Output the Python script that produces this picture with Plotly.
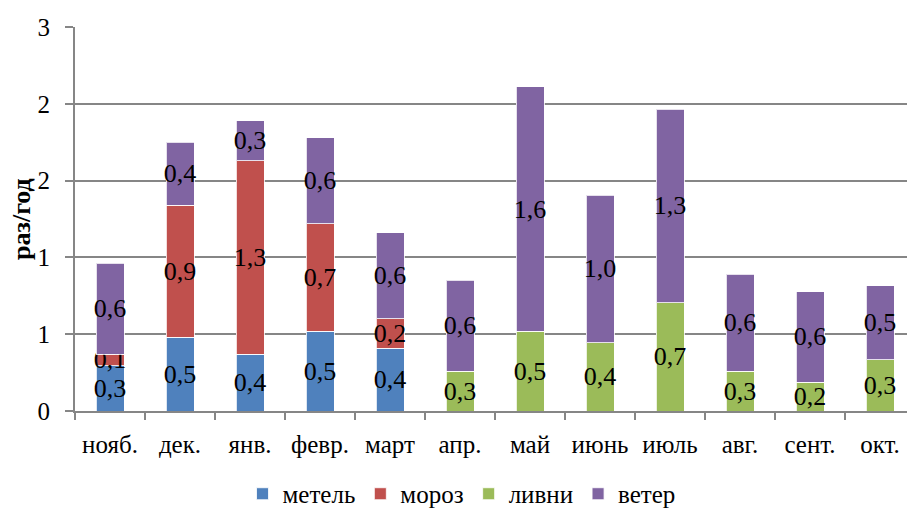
import plotly.graph_objects as go

months = ["нояб.", "дек.", "янв.", "февр.", "март", "апр.", "май", "июнь", "июль", "авг.", "сент.", "окт."]
metel = [0.295, 0.48, 0.37, 0.52, 0.41, None, None, None, None, None, None, None]
moroz = [0.076, 0.86, 1.26, 0.70, 0.19, None, None, None, None, None, None, None]
livni = [None, None, None, None, None, 0.26, 0.52, 0.445, 0.705, 0.26, 0.187, 0.334]
veter = [0.59, 0.41, 0.26, 0.56, 0.56, 0.59, 1.59, 0.96, 1.26, 0.63, 0.59, 0.48]

series_names = ["метель", "мороз", "ливни", "ветер"]
series_colors = ["#4F81BD", "#C0504D", "#9BBB59", "#8064A2"]
ytick_vals = [0, 0.5, 1.0, 1.5, 2.0, 2.5]
ytick_text = ["0", "1", "1", "2", "2", "3"]
y_title = "раз/год"

FONT = "Liberation Serif"


def fmt(v):
    return "" if v is None else f"{v:.1f}".replace(".", ",")


fig = go.Figure()
for name, vals, col in zip(series_names, [metel, moroz, livni, veter], series_colors):
    fig.add_trace(go.Bar(
        name=name, x=months, y=vals,
        marker=dict(color=col, line=dict(color="rgba(255,255,255,0.8)", width=1)),
        text=[fmt(v) for v in vals],
        textposition="inside", insidetextanchor="middle",
        textangle=0, constraintext="none",
        textfont=dict(family=FONT, size=26, color="black"),
        hoverinfo="skip",
    ))

fig.add_annotation(
    text=f"<b>{y_title}</b>", textangle=-90,
    x=0, xref="paper", xanchor="center", xshift=-54,
    y=0.5, yref="paper", yanchor="middle",
    showarrow=False, font=dict(family=FONT, size=26, color="black"),
)

fig.update_layout(
    barmode="stack",
    bargap=0.6,
    width=907, height=501,
    margin=dict(l=67, r=0, t=19, b=98, autoexpand=False),
    plot_bgcolor="white", paper_bgcolor="white",
    font=dict(family=FONT, size=25, color="black"),
    legend=dict(orientation="h", x=0.5, xanchor="center", xref="container",
                y=0.03, yanchor="middle", yref="container",
                font=dict(family=FONT, size=25), itemwidth=30, traceorder="normal",
                tracegroupgap=0),
    xaxis=dict(showline=True, linecolor="#868686", linewidth=2, ticks="outside",
               tickson="boundaries", ticklen=7, tickcolor="#868686", tickwidth=1.5,
               tickfont=dict(family=FONT, size=25), ticklabelstandoff=10, showgrid=False,
               automargin=False),
    yaxis=dict(range=[0, 2.5], tickvals=ytick_vals, ticktext=ytick_text,
               showline=True, linecolor="#868686", linewidth=2,
               ticks="outside", ticklen=8, tickcolor="#868686", tickwidth=1.5,
               showgrid=True, gridcolor="#868686", gridwidth=1.5, zeroline=False,
               tickfont=dict(family=FONT, size=25), ticklabelstandoff=10,
               automargin=False),
)

fig.write_html("out.html")
